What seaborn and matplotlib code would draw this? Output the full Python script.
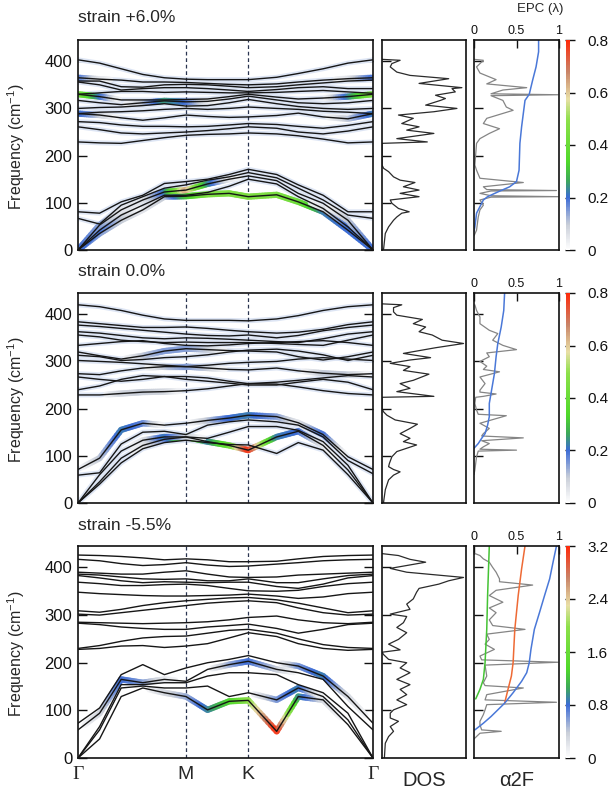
import numpy as np
import pandas as pd
import matplotlib
matplotlib.use("Agg")
import matplotlib.pyplot as plt
import seaborn as sns
from matplotlib.colors import LinearSegmentedColormap, Normalize
from matplotlib.collections import LineCollection
from matplotlib.cm import ScalarMappable

sns.set_theme(style="white")
plt.rcParams["font.family"] = ["Liberation Sans", "DejaVu Sans"]
plt.rcParams["mathtext.fontset"] = "custom"
plt.rcParams["mathtext.rm"] = "Liberation Sans"

# ---------------- data ----------------
k_path = [0, 0.2, 0.4, 0.6, 0.8, 1.0, 1.2, 1.4, 1.577, 1.84, 2.04, 2.27, 2.5, 2.732]
k_label_pos = [0, 1.0, 1.577, 2.732]
k_labels = ["Γ", "M", "K", "Γ"]
titles = ["strain +6.0%", "strain 0.0%", "strain -5.5%"]

r1_bands = [
    [0, 35, 63, 85, 113, 114, 118, 120, 113, 117, 102, 81, 42, 0],
    [0, 42, 74, 95, 116, 116, 122, 135, 150, 140, 113, 88, 49, 0],
    [0, 53, 85, 106, 123, 127, 140, 150, 157, 147, 120, 99, 63, 0],
    [67, 55, 95, 113, 131, 138, 148, 155, 164, 153, 131, 106, 74, 67],
    [81, 78, 102, 116, 141, 145, 150, 160, 171, 160, 138, 116, 81, 81],
    [229, 227, 226, 232, 238, 243, 245, 246, 248, 246, 242, 235, 227, 229],
    [261, 255, 248, 246, 248, 250, 253, 257, 261, 258, 250, 246, 252, 261],
    [272, 270, 265, 262, 262, 261, 262, 265, 268, 266, 262, 258, 264, 272],
    [289, 286, 280, 275, 280, 286, 283, 281, 282, 285, 290, 282, 278, 289],
    [289, 292, 293, 295, 298, 300, 298, 300, 303, 300, 298, 294, 292, 289],
    [300, 302, 303, 306, 310, 305, 306, 312, 319, 310, 304, 300, 298, 300],
    [317, 312, 308, 312, 316, 314, 315, 320, 326, 318, 312, 310, 312, 317],
    [330, 325, 318, 318, 318, 319, 320, 325, 330, 324, 320, 322, 325, 330],
    [330, 333, 336, 336, 334, 335, 334, 333, 333, 334, 336, 338, 335, 332],
    [356, 350, 339, 342, 344, 344, 342, 339, 336, 340, 344, 346, 342, 342],
    [358, 358, 346, 345, 350, 351, 350, 347, 344, 346, 350, 354, 358, 360],
    [365, 362, 360, 356, 356, 355, 353, 351, 350, 352, 356, 360, 363, 365],
    [403, 396, 384, 372, 365, 362, 361, 361, 361, 366, 374, 384, 396, 403],
]
r1_epc = {
    0: [0.2, 0.15, 0.1, 0.05, 0.1, 0.3, 0.45, 0.45, 0.45, 0.45, 0.42, 0.22, 0.2, 0.2],
    1: [0.2, 0.2, 0.1, 0, 0, 0, 0, 0, 0, 0, 0, 0.05, 0.2, 0.2],
    2: [0.2, 0.15, 0.05, 0.05, 0.2, 0.65, 0.25, 0.05, 0, 0, 0, 0, 0.1, 0.2],
    8: [0.22, 0.1, 0, 0, 0, 0, 0, 0, 0, 0, 0, 0, 0.1, 0.22],
    11: [0, 0, 0, 0.1, 0.25, 0.2, 0.05, 0, 0, 0, 0, 0, 0, 0],
    12: [0.45, 0.22, 0, 0, 0, 0, 0, 0, 0, 0, 0, 0, 0.22, 0.45],
    16: [0.2, 0.05, 0, 0, 0, 0, 0, 0, 0, 0, 0, 0, 0.05, 0.2],
}
r1_dos_f = [0, 3, 35, 49, 63, 70, 78, 81, 88, 99, 106, 113, 120, 127, 134, 143, 148, 155, 166, 173,
            180, 226, 229, 236, 247, 254, 261, 268, 279, 286, 293, 300, 307, 317, 321, 328, 335, 342,
            344, 353, 363, 370, 377, 388, 395, 402, 404]
r1_dos_v = [0.01, 0.02, 0.04, 0.08, 0.14, 0.18, 0.24, 0.33, 0.20, 0.12, 0.10, 0.45, 0.22, 0.45, 0.26,
            0.40, 0.22, 0.14, 0.08, 0.02, 0.0, 0.0, 0.55, 0.18, 0.63, 0.30, 0.45, 0.24, 0.38, 0.20,
            0.63, 0.91, 0.53, 0.71, 0.77, 0.65, 0.89, 0.85, 0.97, 0.45, 0.81, 0.34, 0.18, 0.10, 0.12,
            0.22, 0.0]
r1_a2f_f = [30, 42, 70, 85, 95, 106, 112, 113, 115, 120, 125, 126, 128, 134, 143, 152, 169, 180, 226,
            236, 247, 257, 268, 279, 296, 303, 317, 327, 329, 331, 339, 344, 352, 361, 375, 388, 402, 404]
r1_a2f_v = [0, .03, .05, .07, .11, .07, .2, .99, .2, .07, .2, .97, .15, .11, .58, .07, .03, .01, .03,
            .07, .18, .3, .11, .15, .46, .38, .34, .2, .99, .2, .34, .62, .15, .26, .07, .03, .11, 0]
r1_lam_f = [40, 49, 78, 92, 106, 113, 123, 134, 145, 169, 226, 261, 317, 330, 360, 388, 420, 445]
r1_lam_v = [0, .01, .03, .07, .11, .16, .28, .42, .5, .53, .54, .56, .6, .65, .69, .73, .76, .76]

r2_bands = [
    [0, 45, 95, 122, 135, 140, 130, 122, 112, 140, 152, 122, 70, 0],
    [0, 40, 85, 115, 128, 133, 128, 124, 123, 105, 128, 112, 60, 0],
    [0, 60, 110, 133, 140, 140, 137, 150, 162, 162, 154, 130, 80, 0],
    [59, 64, 125, 150, 152, 145, 165, 172, 176, 172, 165, 140, 90, 62],
    [71, 95, 155, 169, 165, 169, 175, 180, 186, 183, 170, 145, 98, 71],
    [229, 229, 232, 235, 236, 238, 242, 248, 253, 252, 246, 238, 232, 229],
    [240, 248, 262, 270, 268, 262, 258, 254, 250, 250, 256, 262, 256, 240],
    [267, 262, 258, 262, 268, 268, 265, 258, 253, 256, 260, 265, 270, 267],
    [274, 272, 280, 286, 289, 289, 286, 283, 282, 286, 280, 275, 272, 274],
    [302, 300, 298, 295, 292, 289, 292, 296, 298, 300, 305, 308, 305, 302],
    [313, 310, 302, 304, 308, 310, 314, 320, 324, 326, 322, 314, 302, 313],
    [320, 312, 305, 312, 322, 327, 325, 323, 322, 320, 310, 303, 310, 320],
    [334, 338, 342, 344, 338, 334, 333, 335, 338, 340, 342, 344, 340, 334],
    [356, 352, 345, 342, 340, 341, 340, 340, 340, 338, 336, 334, 345, 356],
    [363, 360, 355, 350, 348, 350, 349, 347, 345, 342, 340, 348, 358, 363],
    [377, 374, 370, 366, 362, 358, 355, 354, 356, 350, 355, 365, 372, 377],
    [384, 380, 376, 372, 372, 373, 370, 366, 363, 360, 362, 368, 378, 384],
    [420, 416, 408, 398, 390, 387, 387, 387, 386, 390, 397, 408, 416, 420],
]
r2_epc = {
    0: [0, 0, 0, 0.05, 0.15, 0.42, 0.22, 0.4, 0.8, 0.22, 0.2, 0.05, 0, 0],
    2: [0, 0, 0, 0.05, 0.22, 0.1, 0, 0, 0, 0, 0, 0, 0, 0],
    4: [0, 0.1, 0.22, 0.18, 0, 0, 0.1, 0.2, 0.22, 0.15, 0.05, 0.2, 0, 0],
    5: [0, 0, 0.08, 0.1, 0.08, 0, 0, 0, 0, 0, 0, 0, 0, 0],
    8: [0, 0, 0, 0, 0.1, 0.15, 0.1, 0, 0, 0, 0, 0.1, 0.1, 0],
    11: [0, 0, 0, 0.1, 0.15, 0.15, 0.1, 0, 0, 0, 0, 0, 0, 0],
}
r2_dos_f = [0, 3, 28, 49, 59, 66, 71, 77, 84, 98, 109, 123, 130, 137, 147, 158, 167, 176, 186, 193,
            200, 224, 226, 236, 243, 253, 260, 273, 281, 289, 296, 303, 308, 317, 329, 338, 345, 356,
            363, 373, 380, 389, 398, 405, 414, 420, 422]
r2_dos_v = [.02, .02, .04, .08, .14, .22, .14, .08, .09, .12, .18, .42, .26, .34, .22, .34, .43, .16,
            .06, .02, 0, 0, .63, .18, .34, .22, .38, .57, .26, .34, .10, .34, .59, .26, .65, .99, .73,
            .61, .45, .53, .38, .49, .18, .14, .14, .24, 0]
r2_a2f_f = [60, 70, 98, 110, 112, 114, 119, 126, 132, 138, 142, 147, 158, 169, 185, 188, 197, 211,
            224, 226, 231, 235, 239, 253, 267, 278, 283, 290, 300, 310, 318, 325, 334, 345, 359, 366,
            380, 394, 408, 420]
r2_a2f_v = [0, .01, .03, .05, .50, .07, .11, .18, .09, .58, .09, .11, .18, .07, .38, .05, .03, .01,
            .02, .11, .26, .07, .07, .13, .07, .30, .11, .15, .07, .18, .15, .50, .34, .22, .28, .18,
            .07, .07, .03, .01]
r2_lam_f = [116, 126, 137, 147, 165, 183, 211, 253, 274, 310, 338, 373, 408, 445]
r2_lam_v = [0, .05, .09, .13, .16, .18, .18, .22, .24, .26, .28, .32, .35, .36]

r3_bands = [
    [0, 40, 129, 147, 137, 129, 101, 119, 121, 56, 129, 122, 70, 0],
    [0, 59, 147, 151, 147, 147, 151, 129, 137, 122, 147, 129, 80, 0],
    [0, 66, 154, 154, 158, 158, 172, 179, 179, 175, 154, 137, 94, 0],
    [59, 94, 165, 158, 165, 161, 186, 196, 203, 186, 179, 165, 108, 59],
    [73, 105, 175, 196, 175, 189, 200, 207, 215, 200, 193, 172, 129, 73],
    [228, 230, 235, 236, 232, 235, 240, 252, 263, 255, 240, 230, 226, 228],
    [230, 236, 245, 252, 255, 256, 262, 268, 270, 262, 250, 238, 232, 230],
    [283, 280, 275, 272, 270, 270, 275, 278, 281, 272, 262, 270, 280, 283],
    [285, 284, 283, 282, 283, 284, 286, 290, 295, 298, 290, 284, 282, 285],
    [302, 300, 305, 310, 315, 320, 325, 328, 330, 326, 315, 305, 300, 302],
    [309, 306, 312, 320, 326, 330, 333, 336, 337, 332, 325, 315, 305, 309],
    [348, 345, 343, 341, 340, 340, 341, 342, 344, 340, 335, 338, 345, 348],
    [369, 366, 362, 362, 364, 365, 362, 356, 351, 350, 352, 360, 366, 369],
    [383, 378, 372, 368, 370, 369, 368, 369, 369, 360, 356, 365, 378, 383],
    [386, 384, 380, 376, 375, 376, 372, 372, 376, 368, 368, 376, 383, 386],
    [390, 388, 386, 386, 390, 393, 386, 380, 379, 380, 384, 386, 388, 390],
    [417, 414, 408, 404, 406, 410, 405, 402, 403, 407, 410, 414, 416, 417],
    [426, 425, 423, 420, 416, 418, 416, 412, 412, 413, 418, 423, 425, 426],
]
r3_epc = {
    0: [0, 0, 0, 0, 0.3, 0.5, 0.9, 1.3, 1.9, 3.2, 1.0, 0.3, 0, 0],
    1: [0, 0, 0, 0, 0, 0, 0, 0, 0, 0.6, 0.9, 0, 0, 0],
    3: [0, 0.3, 0.8, 0.6, 0.2, 0, 0, 0.5, 0.8, 0.4, 0, 0, 0, 0],
    4: [0, 0, 0, 0, 0, 0, 0, 0, 0, 0, 0.6, 0.9, 0.3, 0],
}
r3_dos_f = [0, 3, 31, 45, 56, 66, 77, 84, 94, 101, 112, 122, 133, 144, 154, 165, 179, 189, 200, 207,
            217, 222, 227, 239, 249, 263, 274, 284, 297, 302, 312, 323, 334, 348, 356, 365, 372, 379,
            390, 398, 411, 417, 425, 429]
r3_dos_v = [.03, .03, .04, .08, .14, .10, .20, .10, .10, .14, .30, .18, .30, .22, .34, .18, .34, .22,
            .30, .08, .02, 0, .22, .08, .20, .30, .18, .26, .30, .10, .34, .30, .38, .42, .45, .69,
            .81, .99, .30, .10, .53, .34, .20, 0]
r3_a2f_f = [40, 52, 56, 59, 70, 77, 91, 101, 112, 117, 122, 133, 147, 152, 158, 172, 195, 201, 206,
            214, 228, 239, 249, 260, 270, 278, 290, 305, 315, 327, 341, 352, 363, 370, 376, 390, 400,
            411, 418, 425, 430]
r3_a2f_v = [0, .07, .32, .09, .07, .07, .11, .13, .15, .97, .13, .15, .58, .13, .11, .15, .13, .99,
            .09, .07, .24, .13, .18, .15, .60, .22, .18, .26, .18, .34, .18, .26, .69, .30, .30, .26,
            .22, .18, .11, .07, 0]
r3_lam_f = [59, 73, 87, 101, 115, 137, 161, 179, 200, 228, 270, 305, 341, 376, 411, 445]
r3_lam_v = [.01, .11, .20, .28, .36, .46, .56, .62, .65, .67, .71, .77, .83, .89, .93, .97]
r3_lam2_f = [115, 144, 172, 200, 270, 341, 397, 445]
r3_lam2_v = [.36, .40, .44, .46, .48, .52, .56, .60]
r3_lam3_f = [124, 144, 165, 200, 270, 341, 445]
r3_lam3_v = [.02, .07, .11, .13, .15, .16, .18]

cbar_max = [0.8, 0.8, 3.2]
cbar_ticks = [[0, 0.2, 0.4, 0.6, 0.8], [0, 0.2, 0.4, 0.6, 0.8], [0, 0.8, 1.6, 2.4, 3.2]]
cbar_ticklabels = [["0", "0.2", "0.4", "0.6", "0.8"], ["0", "0.2", "0.4", "0.6", "0.8"],
                   ["0", "0.8", "1.6", "2.4", "3.2"]]

rows = [
    dict(bands=r1_bands, epc=r1_epc, dos=(r1_dos_f, r1_dos_v), a2f=(r1_a2f_f, r1_a2f_v),
         lams=[(r1_lam_f, r1_lam_v, "#4a78d8")], halo=True),
    dict(bands=r2_bands, epc=r2_epc, dos=(r2_dos_f, r2_dos_v), a2f=(r2_a2f_f, r2_a2f_v),
         lams=[(r2_lam_f, r2_lam_v, "#4a78d8")], halo=True),
    dict(bands=r3_bands, epc=r3_epc, dos=(r3_dos_f, r3_dos_v), a2f=(r3_a2f_f, r3_a2f_v),
         lams=[(r3_lam3_f, r3_lam3_v, "#45c335"), (r3_lam2_f, r3_lam2_v, "#ee6a35"),
               (r3_lam_f, r3_lam_v, "#4a78d8")], halo=False),
]

# ---------------- style ----------------
cmap = LinearSegmentedColormap.from_list("epc", [
    (0.0, "#ffffff"), (0.12, "#c9ced8"), (0.25, "#3b6bd6"), (0.33, "#3da85a"),
    (0.42, "#4fd92a"), (0.62, "#8ee04a"), (0.72, "#e9dfa6"), (0.85, "#c98468"), (1.0, "#ff2a0a")])

W, H = 614, 792
fig = plt.figure(figsize=(W / 100, H / 100), dpi=100)


def rect(x0, x1, y0, y1):
    return [x0 / W, 1 - y1 / H, (x1 - x0) / W, (y1 - y0) / H]


rows_y = [(40, 250), (293, 503), (546, 758)]
title_y = [18, 272, 526]
YMAX = 445
NSUB = 10  # colour-gradient pieces per drawn segment

for r, row in enumerate(rows):
    y0, y1 = rows_y[r]
    axb = fig.add_axes(rect(78, 373, y0, y1))
    axd = fig.add_axes(rect(382, 466, y0, y1))
    axa = fig.add_axes(rect(474, 559, y0, y1))
    cax = fig.add_axes(rect(566, 570, y0, y1))

    # band structure
    recs = []
    for bi, fr in enumerate(row["bands"]):
        for kk, ff in zip(k_path, fr):
            recs.append((bi, kk, ff))
    df = pd.DataFrame(recs, columns=["band", "k", "freq"])
    if row["halo"]:
        sns.lineplot(data=df, x="k", y="freq", units="band", estimator=None, sort=False,
                     color="#dde5f4", lw=3.5, ax=axb, legend=False, zorder=1)
    vmax = cbar_max[r]
    segs, cols = [], []
    for bi, lam in row["epc"].items():
        fr = row["bands"][bi]
        for i in range(len(k_path) - 1):
            if max(lam[i], lam[i + 1]) <= 0.03 * vmax:
                continue
            t = np.linspace(0, 1, NSUB + 1)
            xs = k_path[i] + t * (k_path[i + 1] - k_path[i])
            ys = fr[i] + t * (fr[i + 1] - fr[i])
            ls_ = lam[i] + t * (lam[i + 1] - lam[i])
            for j in range(NSUB):
                m = 0.5 * (ls_[j] + ls_[j + 1])
                if m <= 0.03 * vmax:
                    continue
                segs.append([(xs[j], ys[j]), (xs[j + 1], ys[j + 1])])
                cols.append(cmap(min(m / vmax, 1.0)))
    axb.add_collection(LineCollection(segs, colors=cols, linewidths=4.5, alpha=0.85,
                                      capstyle="round", zorder=2))
    sns.lineplot(data=df, x="k", y="freq", units="band", estimator=None, sort=False,
                 color="#161616", lw=1.0, ax=axb, legend=False, zorder=3)
    for kx in (1.0, 1.577):
        axb.axvline(kx, color="#2a3550", ls=(0, (3, 2.2)), lw=0.9, zorder=1.5)
    axb.set_xlim(0, 2.732)
    axb.set_ylim(0, YMAX)
    axb.set_yticks([0, 100, 200, 300, 400])
    axb.set_xticks(k_label_pos)
    axb.set_xlabel("")
    axb.set_ylabel("")
    axb.tick_params(axis="y", direction="in", length=6.5, width=1, left=True, right=True,
                    labelsize=12, pad=4, colors="#111111")
    axb.tick_params(axis="x", length=0, labelsize=14, pad=6)
    if r == 2:
        axb.set_xticklabels(k_labels)
        for i in (0, 3):
            axb.get_xticklabels()[i].set_fontfamily("Liberation Serif")
    else:
        axb.set_xticklabels([])

    # DOS
    df_f, df_v = row["dos"]
    sns.lineplot(x=df_v, y=df_f, orient="y", estimator=None, sort=False, color="#2b2b2b",
                 lw=0.9, ax=axd)
    axd.set_xlim(0, 1.02)
    axd.set_ylim(0, YMAX)
    axd.set_xticks([])
    axd.set_yticks([100, 200, 300, 400])
    axd.set_yticklabels([])
    axd.tick_params(axis="y", direction="in", length=6.5, width=1, left=True, colors="#111111")
    axd.set_ylabel("")

    # alpha2F
    af, av = row["a2f"]
    sns.lineplot(x=av, y=af, orient="y", estimator=None, sort=False, color="#858585",
                 lw=0.9, ax=axa)
    for lf, lv, lc in row["lams"]:
        sns.lineplot(x=lv, y=lf, orient="y", estimator=None, sort=False, color=lc, lw=1.1, ax=axa)
    axa.set_xlim(0, 1)
    axa.set_ylim(0, YMAX)
    axa.xaxis.tick_top()
    axa.set_xticks([0, 0.5, 1])
    axa.set_xticklabels(["0", "0.5", "1"])
    axa.tick_params(axis="x", direction="in", length=6, width=1, labelsize=9, pad=2,
                    top=True, bottom=False, colors="#111111")
    axa.set_yticks([100, 200, 300, 400])
    axa.set_yticklabels([])
    axa.tick_params(axis="y", direction="in", length=6.5, width=1, left=True, colors="#111111")
    axa.set_ylabel("")
    axa.set_xlabel("")

    for ax in (axb, axd, axa):
        for s in ax.spines.values():
            s.set_visible(True)
            s.set_color("#111111")
            s.set_linewidth(1.2)

    # colorbar
    sm = ScalarMappable(norm=Normalize(0, vmax), cmap=cmap)
    cb = fig.colorbar(sm, cax=cax, ticks=cbar_ticks[r])
    cb.set_ticklabels(cbar_ticklabels[r])
    cb.outline.set_visible(False)
    cax.tick_params(direction="inout", length=7, width=1, labelsize=11, pad=9, colors="#111111")

    # texts
    fig.text(78 / W, 1 - title_y[r] / H, titles[r], ha="left", va="center", fontsize=12.5)
    fig.text(16 / W, 1 - ((y0 + y1) / 2 + 2) / H, "Frequency (cm$^{-1}$)", rotation=90,
             ha="center", va="center", fontsize=11.5)

    if r == 2:
        axd.set_xlabel("DOS", fontsize=14.5, labelpad=9)
        axa.xaxis.set_label_position("bottom")
        axa.set_xlabel("α2F", fontsize=14.5, labelpad=9)

fig.text(540 / W, 1 - 9 / H, "EPC (λ)", ha="center", va="center", fontsize=9.5)

fig.savefig("out.png", dpi=100)
